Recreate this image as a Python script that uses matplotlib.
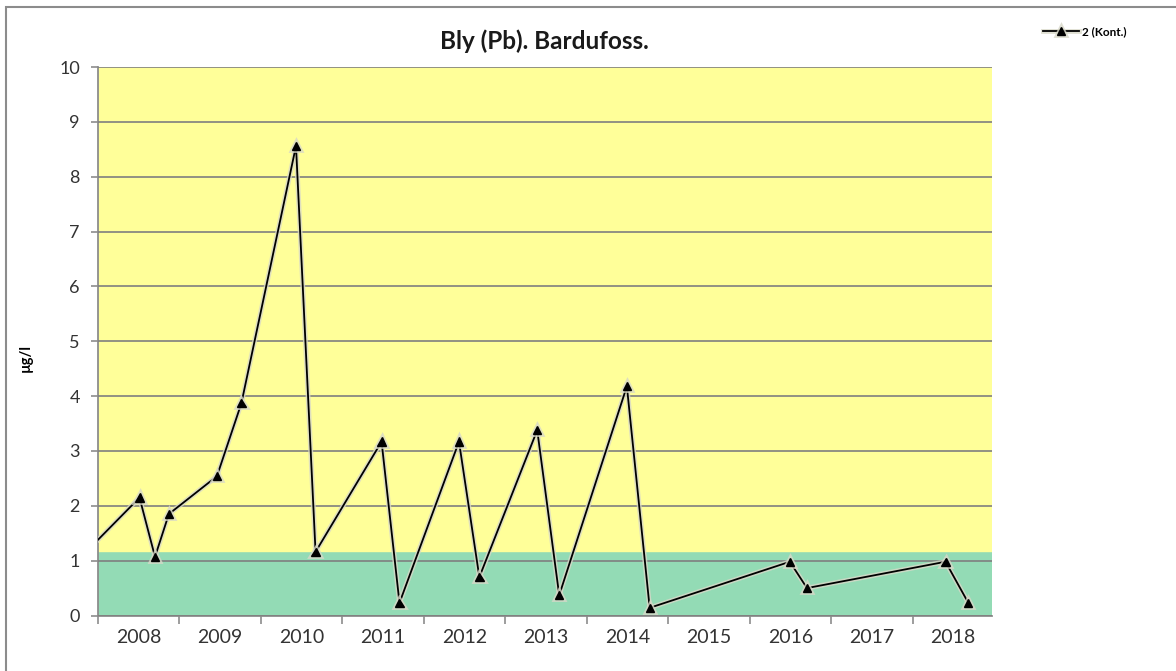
import numpy as np
import matplotlib
matplotlib.use("Agg")
import matplotlib.pyplot as plt
import matplotlib.patheffects as pe
from matplotlib.patches import Rectangle

plt.rcParams['font.family'] = ['Lato', 'DejaVu Sans']

# sample time (decimal year) and lead concentration (µg/l)
years = [2008.0, 2008.51, 2008.70, 2008.87, 2009.46, 2009.76, 2010.43, 2010.67,
         2011.48, 2011.70, 2012.43, 2012.68, 2013.39, 2013.66, 2014.49, 2014.77,
         2016.49, 2016.70, 2018.40, 2018.68]
pb = [1.38, 2.15, 1.07, 1.85, 2.54, 3.87, 8.56, 1.16,
      3.17, 0.23, 3.17, 0.70, 3.38, 0.37, 4.18, 0.14,
      0.98, 0.50, 0.98, 0.23]
year_labels = [str(y) for y in range(2008, 2019)]
class_limit = 1.17
y_max = 10

fig = plt.figure(figsize=(11.76, 6.71), dpi=100)
ax = fig.add_axes([0.0833, 0.0827, 0.7602, 0.8174])

x0, x1 = 2008.0, 2018.97
ax.axhspan(0, class_limit, color='#93dbb5', zorder=0)
ax.axhspan(class_limit, y_max, color='#ffff99', zorder=0)
ax.set_xlim(x0, x1)
ax.set_ylim(0, y_max)

ax.set_yticks(range(0, 11))
ax.yaxis.grid(True, color='#7f7f7f', linewidth=1.2, zorder=1)
ax.set_axisbelow(False)

ax.set_xticks(range(2008, 2019))
ax.set_xticklabels([])
ax.set_xticks([y + 0.5 for y in range(2008, 2018)] + [2018.485], minor=True)
ax.set_xticklabels(year_labels, minor=True)
ax.tick_params(axis='x', which='major', length=6, color='#8c8c8c', width=1.2)
ax.tick_params(axis='x', which='minor', length=0, pad=10, labelsize=14, labelcolor='#333333')
ax.tick_params(axis='y', length=5, color='#8c8c8c', width=1.2, labelsize=13,
               labelcolor='#333333', pad=8)

for s in ['top', 'right']:
    ax.spines[s].set_visible(False)
for s in ['left', 'bottom']:
    ax.spines[s].set_color('#8c8c8c')
    ax.spines[s].set_linewidth(1.3)

line, = ax.plot(years, pb, color='black', linewidth=1.3, marker='^', markersize=6,
                markevery=list(range(1, len(years))), zorder=3, label='2 (Kont.)',
                path_effects=[pe.Stroke(linewidth=3.5, foreground='#d8d8c8', alpha=0.8), pe.Normal()])

ax.set_ylabel('µg/l', fontsize=10.5, fontweight='bold')
ax.yaxis.set_label_coords(-0.073, 0.47)

fig.text(0.463, 0.939, 'Bly (Pb). Bardufoss.', ha='center', va='center',
         fontsize=17.5, fontweight='bold', color='#1a1a1a')

leg = fig.legend(handles=[line], loc='center left', bbox_to_anchor=(0.878, 0.953),
                 frameon=False, prop={'size': 8.5, 'weight': 'bold'}, handlelength=3,
                 handletextpad=0.3)

fig.patches.append(Rectangle((6 / 1176, -0.1), 1.2, (671 - 7) / 671 + 0.1,
                             transform=fig.transFigure, fill=False,
                             edgecolor='#8c8c8c', linewidth=1.5))

fig.savefig('out.png', dpi=100)
